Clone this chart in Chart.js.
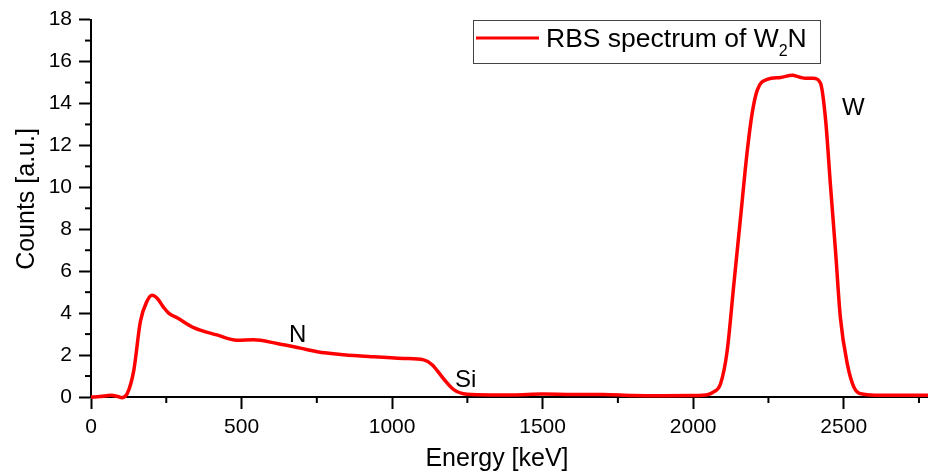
<!DOCTYPE html>
<html>
<head>
<meta charset="utf-8">
<script src="https://cdn.jsdelivr.net/npm/chart.js@4"></script>
<style>
  html, body { margin: 0; padding: 0; background: #fff; }
  #wrap { width: 928px; height: 476px; }
</style>
</head>
<body>
<div id="wrap"><canvas id="rbsChart" width="928" height="476"></canvas></div>
<script>
// RBS spectrum, energy in keV, counts in a.u.
const energy = [0, 30, 66, 90, 103, 120, 142, 164, 186, 203, 219, 240, 258, 286, 341, 418, 485, 540, 618, 695,
  751, 839, 939, 1038, 1105, 1133, 1171, 1205, 1249, 1327, 1400, 1500, 1600, 1700, 1800, 1900, 2000, 2050, 2068, 2091,
  2113, 2135, 2157, 2179, 2196, 2213, 2246, 2290, 2329, 2355, 2373, 2400, 2423, 2440, 2456, 2473, 2489, 2512, 2534, 2567,
  2620, 2700, 2780];
const counts = [0, 0.02, 0.08, 0.02, -0.03, 0.15, 1.26, 3.6, 4.57, 4.85, 4.72, 4.3, 4.0, 3.78, 3.31, 2.96, 2.71, 2.73, 2.55, 2.33,
  2.16, 2.02, 1.92, 1.84, 1.77, 1.54, 0.87, 0.35, 0.13, 0.1, 0.1, 0.14, 0.12, 0.12, 0.07, 0.06, 0.07, 0.12, 0.24, 0.63,
  2.2, 5.36, 8.5, 11.65, 13.54, 14.64, 15.15, 15.24, 15.35, 15.25, 15.2, 15.2, 14.96, 13.2, 10.1, 6.93, 3.78, 1.58, 0.47, 0.13,
  0.08, 0.08, 0.08];

const xTicks = [0, 500, 1000, 1500, 2000, 2500];
const yTicks = [0, 2, 4, 6, 8, 10, 12, 14, 16, 18];
const xMinorTicks = [250, 750, 1250, 1750, 2250, 2750];
const yMinorTicks = [1, 3, 5, 7, 9, 11, 13, 15, 17];

// peak labels
const peakNames = ["N", "Si", "W"];
const peakPos = [[289, 342], [455, 387], [842, 115]];

const FONT = "'Liberation Sans', Arial, sans-serif";

// minor ticks, titles, legend and labels
const extras = {
  id: "extras",
  afterDraw(chart) {
    const ctx = chart.ctx;
    const xs = chart.scales.x;
    const ys = chart.scales.y;
    const area = chart.chartArea;
    ctx.save();
    ctx.strokeStyle = "#000";
    ctx.lineWidth = 2;
    xMinorTicks.forEach((v) => {
      let px = xs.getPixelForValue(v);
      ctx.beginPath();
      ctx.moveTo(px, area.bottom);
      ctx.lineTo(px, area.bottom + 6);
      ctx.stroke();
    });
    yMinorTicks.forEach((v) => {
      let py = ys.getPixelForValue(v);
      ctx.beginPath();
      ctx.moveTo(area.left, py);
      ctx.lineTo(area.left - 6, py);
      ctx.stroke();
    });

    // axis titles
    ctx.fillStyle = "#000";
    ctx.font = "25px " + FONT;
    ctx.textAlign = "center";
    ctx.textBaseline = "alphabetic";
    ctx.fillText("Energy [keV]", 497, 466);
    ctx.save();
    ctx.translate(34, 199);
    ctx.rotate(-Math.PI / 2);
    ctx.fillText("Counts [a.u.]", 0, 0);
    ctx.restore();

    // legend
    ctx.strokeStyle = "#444";
    ctx.lineWidth = 1;
    ctx.strokeRect(473.5, 20.5, 347, 43);
    ctx.strokeStyle = "#ff0000";
    ctx.lineWidth = 3;
    ctx.beginPath();
    ctx.moveTo(476, 38);
    ctx.lineTo(539, 38);
    ctx.stroke();
    ctx.textAlign = "left";
    ctx.font = "26.5px " + FONT;
    let tx = 546;
    let part = "RBS spectrum of W";
    ctx.fillText(part, tx, 47);
    tx += ctx.measureText(part).width;
    ctx.font = "16px " + FONT;
    ctx.fillText("2", tx, 56);
    tx += ctx.measureText("2").width;
    ctx.font = "26.5px " + FONT;
    ctx.fillText("N", tx, 47);

    // peak names
    ctx.font = "24px " + FONT;
    peakNames.forEach((name, i) => {
      ctx.fillText(name, peakPos[i][0], peakPos[i][1]);
    });
    ctx.restore();
  }
};

const ctx = document.getElementById("rbsChart");

new Chart(ctx, {
  type: "line",
  data: {
    datasets: [
      {
        label: "RBS spectrum of W2N",
        data: energy.map((e, i) => ({ x: e, y: counts[i] })),
        borderColor: "#ff0000",
        borderWidth: 3.5,
        pointRadius: 0,
        cubicInterpolationMode: "monotone",
        fill: false,
        clip: false
      }
    ]
  },
  options: {
    responsive: false,
    animation: false,
    layout: { padding: { top: 16, right: 0, bottom: 0, left: 0 } },
    plugins: {
      legend: { display: false },
      tooltip: { enabled: false }
    },
    scales: {
      x: {
        type: "linear",
        min: 0,
        max: 2780,
        afterFit: (scale) => { scale.height = 79; },
        afterBuildTicks: (scale) => { scale.ticks = xTicks.map((v) => ({ value: v })); },
        border: { display: true, color: "#000", width: 2 },
        grid: { display: true, drawOnChartArea: false, drawTicks: true, tickLength: 12, tickColor: "#000", tickWidth: 2 },
        ticks: {
          autoSkip: false,
          maxRotation: 0,
          color: "#000",
          padding: 6,
          font: { family: FONT, size: 21 },
          callback: (v) => String(v)
        }
      },
      y: {
        min: 0,
        max: 18,
        afterFit: (scale) => { scale.width = 91; },
        afterBuildTicks: (scale) => { scale.ticks = yTicks.map((v) => ({ value: v })); },
        border: { display: true, color: "#000", width: 2 },
        grid: { display: true, drawOnChartArea: false, drawTicks: true, tickLength: 12, tickColor: "#000", tickWidth: 2 },
        ticks: {
          color: "#000",
          padding: 7,
          font: { family: FONT, size: 21 },
          callback: (v) => String(v)
        }
      }
    }
  },
  plugins: [extras]
});
</script>
</body>
</html>
